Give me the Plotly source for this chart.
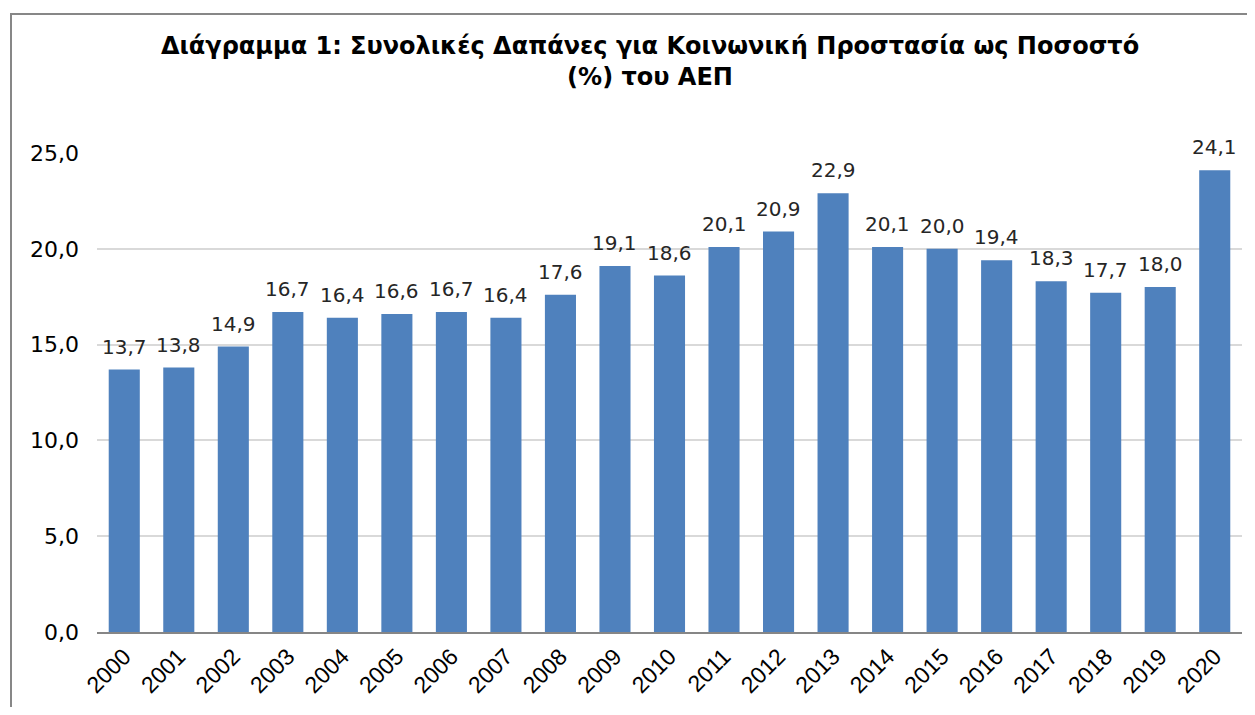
import plotly.graph_objects as go

years = [str(y) for y in range(2000, 2021)]
values = [13.7, 13.8, 14.9, 16.7, 16.4, 16.6, 16.7, 16.4, 17.6, 19.1, 18.6,
          20.1, 20.9, 22.9, 20.1, 20.0, 19.4, 18.3, 17.7, 18.0, 24.1]
y_ticks = [0, 5, 10, 15, 20, 25]
title_text = ("Διάγραμμα 1: Συνολικές Δαπάνες για Κοινωνική Προστασία ως Ποσοστό"
              "<br>(%) του ΑΕΠ")

# page has an 8px body margin, so figure coords = page coords - 8
OFF = 8
W, H = 1255 - 2 * OFF, 715 - 2 * OFF
L, T = 97 - OFF, 153 - OFF
R = W - (1242 - OFF)
B = H - (632 - OFF)
pw, ph = W - L - R, H - T - B

fig = go.Figure(go.Bar(
    x=years, y=values,
    marker=dict(color="#4F81BD", line=dict(width=0)),
    cliponaxis=False,
))

# data labels: category index on the category axis
for i, v in enumerate(values):
    fig.add_annotation(
        x=i, y=v, xref="x", yref="y", text=f"{v:.1f}".replace(".", ","),
        showarrow=False, yanchor="bottom", yshift=9,
        font=dict(family="DejaVu Sans", size=20, color="#262626"),
    )

def px_x(p):
    return (p - OFF - L) / pw

def px_y(p):
    return (H - B - (p - OFF)) / ph

fig.update_layout(
    width=W, height=H,
    margin=dict(l=L, r=R, t=T, b=B),
    paper_bgcolor="white", plot_bgcolor="white",
    separators=",.",
    bargap=0.43,
    showlegend=False,
    title=dict(text="<b>" + title_text + "</b>", x=(650 - OFF) / W, xanchor="center",
               y=1 - 46 / H, yanchor="top",
               font=dict(family="DejaVu Sans", size=24, color="black")),
    xaxis=dict(type="category", categoryorder="array", categoryarray=years,
               range=[-0.5, len(years) - 0.5],
               tickangle=-45, showline=True, linecolor="#868686", linewidth=2,
               automargin=False,
               tickfont=dict(family="Liberation Sans", size=23, color="black"),
               ticks="", showgrid=False),
    yaxis=dict(range=[0, 25], tickvals=y_ticks, tickformat=".1f",
               automargin=False,
               showgrid=True, gridcolor="#D9D9D9", gridwidth=2,
               zeroline=False, ticks="", ticklabelstandoff=17,
               tickfont=dict(family="DejaVu Sans", size=22, color="black")),
    shapes=[dict(type="rect", xref="paper", yref="paper",
                 x0=px_x(11), x1=px_x(1275), y0=px_y(14), y1=px_y(740),
                 line=dict(color="#878787", width=2), fillcolor="rgba(0,0,0,0)")],
)

fig.write_html("out.html")
